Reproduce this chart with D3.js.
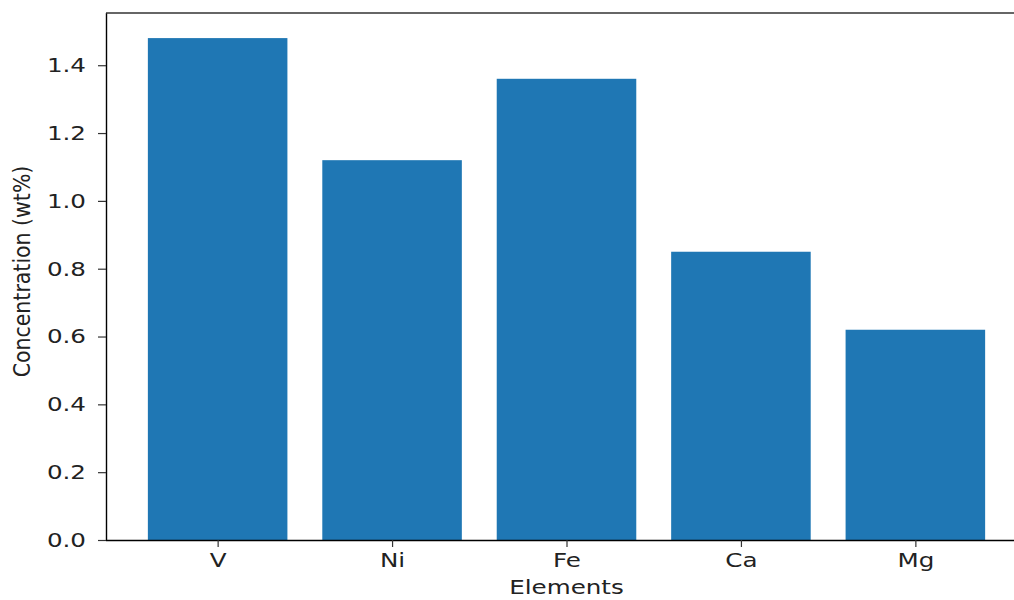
<!DOCTYPE html>
<html><head><meta charset="utf-8">
<script src="https://cdn.jsdelivr.net/npm/d3@7"></script>
<style>body{margin:0;background:#fff}svg{display:block}text{font-family:"DejaVu Sans",sans-serif;fill:#222}</style>
</head><body>
<svg id="c" width="1014" height="600"></svg>
<script>
const categories = ["V","Ni","Fe","Ca","Mg"];
const values = [1.48, 1.12, 1.36, 0.85, 0.62];
const yTicks = [0.0,0.2,0.4,0.6,0.8,1.0,1.2,1.4];
const xLabel = "Elements";
const yLabel = "Concentration (wt%)";

(function(){
const svg = d3.select("#c");
const mLeft = 106, mRight = 1027, mTop = 13, mBottom = 540;
const SX = 1.23, FS = 20;

const x = d3.scaleLinear().domain([-0.64, 4.64]).range([mLeft, mRight]);
const y = d3.scaleLinear().domain([0, 1.554]).range([mBottom, mTop]);
const bw = 0.8;

svg.append("g").selectAll("rect").data(values).join("rect")
  .attr("x", (d,i) => x(i - bw/2))
  .attr("width", (d,i) => x(i + bw/2) - x(i - bw/2))
  .attr("y", d => y(d))
  .attr("height", d => y(0) - y(d))
  .attr("fill", "#1f77b4");

function stretch(sel){
  sel.selectAll("text").each(function(){
    const t = d3.select(this);
    const tx = +t.attr("x") || 0, ty = +t.attr("y") || 0;
    t.attr("x",0).attr("y",0).attr("transform",`translate(${tx},${ty}) scale(${SX},1)`);
  });
}

const ya = svg.append("g").attr("transform",`translate(${mLeft},0)`)
  .call(d3.axisLeft(y).tickValues(yTicks).tickFormat(d3.format(".1f")).tickSize(8).tickPadding(12));
ya.select(".domain").attr("stroke","#000").attr("stroke-width",1.4).attr("d",`M0.5,${mTop}V${mBottom}`);
ya.selectAll(".tick line").attr("stroke","#333").attr("stroke-width",1.2);
ya.selectAll("text").attr("font-size",FS).attr("fill","#222").attr("font-family","DejaVu Sans");
stretch(ya);

const xa = svg.append("g").attr("transform",`translate(0,${mBottom})`)
  .call(d3.axisBottom(x).tickValues(d3.range(categories.length)).tickFormat(i => categories[i]).tickSize(7).tickPadding(6));
xa.select(".domain").attr("stroke","#000").attr("stroke-width",1.4).attr("d",`M${mLeft},0.5H${mRight}`);
xa.selectAll(".tick line").attr("stroke","#333").attr("stroke-width",1.2);
xa.selectAll("text").attr("font-size",FS).attr("fill","#222").attr("font-family","DejaVu Sans");
stretch(xa);

svg.append("line").attr("x1",mLeft).attr("x2",mRight).attr("y1",mTop).attr("y2",mTop)
  .attr("stroke","#333").attr("stroke-width",1.4);

svg.append("text").attr("text-anchor","middle").attr("font-size",FS)
  .attr("transform",`translate(${x(2)},594) scale(${SX},1)`).text(xLabel);

svg.append("text").attr("text-anchor","middle").attr("font-size",20.5)
  .attr("transform",`translate(30,${(165+378)/2}) scale(1.12,1) rotate(-90)`).text(yLabel);
})();
</script>
</body></html>
